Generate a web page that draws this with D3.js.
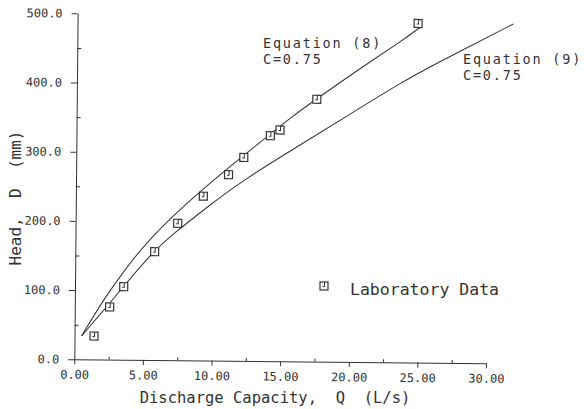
<!DOCTYPE html>
<html>
<head>
<meta charset="utf-8">
<script src="https://cdn.jsdelivr.net/npm/d3@7"></script>
<style>
  body { margin: 0; background: #fff; }
  svg { display: block; }
  text { font-family: "DejaVu Sans Mono", monospace; fill: #333; }
</style>
</head>
<body>
<svg id="chart"></svg>
<script>
// laboratory measurements (Q in L/s, D in mm)
const labQ = [1.42, 2.54, 3.55, 5.78, 7.44, 9.29, 11.11, 12.21, 14.13, 14.83, 17.49, 24.82]
const labD = [33.9, 76.1, 105.6, 156.6, 198, 237.5, 268.9, 294, 325.8, 334.2, 379.1, 490]

// Equation (8), C=0.75
const eq8Q = [0.52, 2.07, 3.27, 4.71, 6.88, 9.04, 10.73, 14.11, 15.55, 17.49, 21.47, 23.52, 25.0]
const eq8D = [34, 86, 120, 159, 205, 244, 273, 328, 351.5, 380, 436, 463, 485]

// Equation (9), C=0.75
const eq9Q = [0.52, 2.33, 3.52, 5.68, 6.89, 9.78, 12.19, 16.3, 20.41, 23.55, 25.72, 31.76]
const eq9D = [34, 76.5, 105.6, 156.6, 179, 225, 261.4, 312.8, 364.2, 403.4, 428, 490.6]

const xTicks = [0, 5, 10, 15, 20, 25, 30]
const xMinor = [2.5, 7.5, 12.5, 17.5, 22.5, 27.5]
const yTicks = [0, 100, 200, 300, 400, 500]
const yMinor = [50, 150, 250, 350, 450]

const W = 586, H = 409
const INK = "#333"
const ORIGIN = {x: 74.3, y: 359.3}
const TILT = 0.55  // the scanned page is slightly rotated

const svg = d3.select("#chart").attr("width", W).attr("height", H)

const x = d3.scaleLinear().domain([0, 30]).range([ORIGIN.x, ORIGIN.x + 411.7])
const y = d3.scaleLinear().domain([0, 500]).range([ORIGIN.y, ORIGIN.y - 346])

const plot = svg.append("g")
    .attr("transform", `rotate(${TILT}, ${ORIGIN.x}, ${ORIGIN.y})`)

//-------------------------- Axes --------------------------
function styleAxis(g){
    g.attr("font-family", "DejaVu Sans Mono").attr("font-size", 12)
    g.selectAll("path, line").attr("stroke", INK).attr("stroke-width", 1)
    g.selectAll("text").attr("fill", INK)
}

plot.append("g")
    .attr("transform", `translate(0,${ORIGIN.y})`)
    .call(d3.axisBottom(x).tickValues(xTicks).tickSize(5).tickSizeOuter(0).tickPadding(6)
        .tickFormat(d3.format(".2f")))
    .call(styleAxis)

plot.append("g")
    .attr("transform", `translate(0,${ORIGIN.y})`)
    .call(d3.axisTop(x).tickValues(xMinor).tickSize(3).tickSizeOuter(0).tickFormat(""))
    .call(styleAxis)
    .call(g => g.select(".domain").remove())

plot.append("g")
    .attr("transform", `translate(${ORIGIN.x},0)`)
    .call(d3.axisLeft(y).tickValues(yTicks).tickSize(6).tickSizeOuter(0).tickPadding(9)
        .tickFormat(d3.format(".1f")))
    .call(styleAxis)

plot.append("g")
    .attr("transform", `translate(${ORIGIN.x},0)`)
    .call(d3.axisRight(y).tickValues(yMinor).tickSize(4).tickSizeOuter(0).tickFormat(""))
    .call(styleAxis)
    .call(g => g.select(".domain").remove())

//-------------------------- Curves --------------------------
const line = d3.line()
    .x(d => x(d[0]))
    .y(d => y(d[1]))
    .curve(d3.curveBasis)

plot.append("path")
    .datum(d3.zip(eq8Q, eq8D))
    .attr("fill", "none").attr("stroke", INK).attr("stroke-width", 1)
    .attr("d", line)

plot.append("path")
    .datum(d3.zip(eq9Q, eq9D))
    .attr("fill", "none").attr("stroke", INK).attr("stroke-width", 1)
    .attr("d", line)

//-------------------------- Lab data --------------------------
function marker(g){
    g.append("rect")
        .attr("x", -4).attr("y", -4).attr("width", 8).attr("height", 8)
        .attr("fill", "#fff").attr("stroke", INK).attr("stroke-width", 1.2)
    g.append("path")
        .attr("d", "M0.5,-4V0.5H-1.5")
        .attr("fill", "none").attr("stroke", INK).attr("stroke-width", 1)
}

plot.selectAll(".lab")
    .data(d3.zip(labQ, labD))
    .join("g")
        .attr("class", "lab")
        .attr("transform", d => `translate(${x(d[0])},${y(d[1])})`)
        .each(function(){ marker(d3.select(this)) })

//-------------------------- Labels --------------------------
svg.append("text")
    .attr("x", 275).attr("y", 403)
    .attr("text-anchor", "middle").attr("font-size", 15.5)
    .style("white-space", "pre")
    .text("Discharge Capacity,  Q  (L/s)")

svg.append("text")
    .attr("transform", "translate(21,198) rotate(-90)")
    .attr("text-anchor", "middle").attr("font-size", 16)
    .style("white-space", "pre")
    .text("Head,  D  (mm)")

// two-line curve annotations
const notes = [
    {x: 263, y: 48, lines: ["Equation (8)", "C=0.75"]},
    {x: 463, y: 63.5, lines: ["Equation (9)", "C=0.75"]}
]
notes.forEach(n => {
    n.lines.forEach((s, i) => {
        svg.append("text")
            .attr("x", n.x).attr("y", n.y + i * 16)
            .attr("font-size", 13.5)
            .attr("letter-spacing", 1.8)
            .text(s)
    })
})

// legend
const leg = svg.append("g").attr("transform", "translate(324,286)")
marker(leg)
svg.append("text")
    .attr("x", 350).attr("y", 295)
    .attr("font-size", 16.5)
    .text("Laboratory Data")
</script>
</body>
</html>
